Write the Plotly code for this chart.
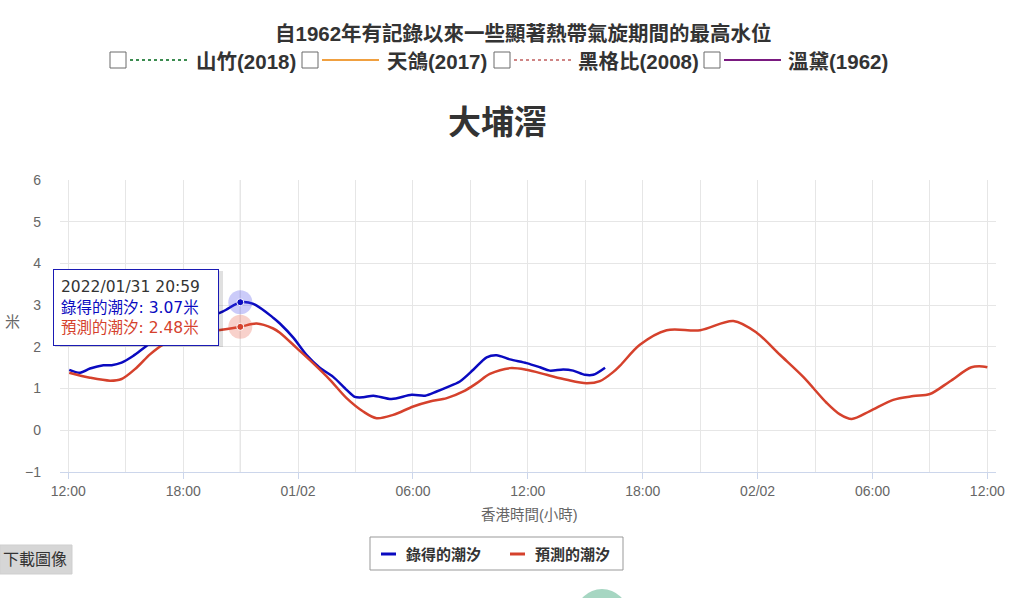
import plotly.graph_objects as go

# ---------------- data ----------------
obs_times = [
    "2022-01-31 12:03", "2022-01-31 12:37", "2022-01-31 13:08", "2022-01-31 13:50",
    "2022-01-31 14:16", "2022-01-31 14:47", "2022-01-31 15:23", "2022-01-31 16:05",
    "2022-01-31 17:00", "2022-01-31 18:00", "2022-01-31 19:00", "2022-01-31 20:05",
    "2022-01-31 20:59", "2022-01-31 21:40", "2022-01-31 22:42", "2022-01-31 23:03",
    "2022-01-31 23:45", "2022-02-01 00:27", "2022-02-01 01:08", "2022-02-01 01:50",
    "2022-02-01 02:32", "2022-02-01 02:58", "2022-02-01 03:24", "2022-02-01 03:56",
    "2022-02-01 04:53", "2022-02-01 05:56", "2022-02-01 06:38", "2022-02-01 07:14",
    "2022-02-01 07:46", "2022-02-01 08:27", "2022-02-01 09:09", "2022-02-01 09:51",
    "2022-02-01 10:22", "2022-02-01 11:04", "2022-02-01 11:56", "2022-02-01 12:38",
    "2022-02-01 13:09", "2022-02-01 13:51", "2022-02-01 14:22", "2022-02-01 14:59",
    "2022-02-01 15:25", "2022-02-01 16:02",
]
obs_values = [
    1.45, 1.38, 1.48, 1.56, 1.56, 1.62, 1.78, 2.02,
    2.30, 2.50, 2.66, 2.85, 3.07, 3.03, 2.70, 2.56,
    2.22, 1.80, 1.50, 1.28, 0.97, 0.80, 0.79, 0.83,
    0.75, 0.85, 0.83, 0.93, 1.03, 1.17, 1.45, 1.75,
    1.80, 1.70, 1.61, 1.51, 1.43, 1.46, 1.43, 1.33,
    1.33, 1.50,
]

pred_times = [
    "2022-01-31 12:03", "2022-01-31 13:08", "2022-01-31 14:11", "2022-01-31 14:47",
    "2022-01-31 15:34", "2022-01-31 16:16", "2022-01-31 16:58", "2022-01-31 17:45",
    "2022-01-31 18:40", "2022-01-31 20:01", "2022-01-31 20:59", "2022-01-31 21:50",
    "2022-01-31 22:42", "2022-01-31 23:03", "2022-01-31 23:56", "2022-02-01 00:47",
    "2022-02-01 01:40", "2022-02-01 02:32", "2022-02-01 03:24", "2022-02-01 04:06",
    "2022-02-01 04:58", "2022-02-01 06:01", "2022-02-01 06:53", "2022-02-01 07:46",
    "2022-02-01 08:38", "2022-02-01 09:20", "2022-02-01 10:01", "2022-02-01 11:04",
    "2022-02-01 11:56", "2022-02-01 12:59", "2022-02-01 14:02", "2022-02-01 15:04",
    "2022-02-01 15:46", "2022-02-01 16:28", "2022-02-01 16:49", "2022-02-01 17:51",
    "2022-02-01 19:15", "2022-02-01 21:00", "2022-02-01 22:44", "2022-02-01 23:57",
    "2022-02-02 01:10", "2022-02-02 02:23", "2022-02-02 03:36", "2022-02-02 04:18",
    "2022-02-02 04:55", "2022-02-02 05:52", "2022-02-02 07:05", "2022-02-02 08:08",
    "2022-02-02 09:00", "2022-02-02 10:02", "2022-02-02 11:10", "2022-02-02 11:45",
    "2022-02-02 12:00",
]
pred_values = [
    1.38, 1.26, 1.19, 1.23, 1.50, 1.82, 2.06, 2.22,
    2.33, 2.41, 2.48, 2.56, 2.44, 2.34, 1.97, 1.61,
    1.21, 0.77, 0.45, 0.29, 0.37, 0.57, 0.69, 0.77,
    0.93, 1.13, 1.35, 1.49, 1.45, 1.33, 1.21, 1.13,
    1.18, 1.40, 1.55, 2.05, 2.40, 2.40, 2.62, 2.34,
    1.81, 1.28, 0.66, 0.38, 0.27, 0.46, 0.73, 0.82,
    0.87, 1.17, 1.51, 1.53, 1.51,
]

hover_time = "2022-01-31 20:59"
hover_label = "2022/01/31 20:59"
hover_observed = 3.07
hover_predicted = 2.48

series_names = ["錄得的潮汐", "預測的潮汐"]
history_names = ["山竹(2018)", "天鴿(2017)", "黑格比(2008)", "溫黛(1962)"]

x_tickvals = [
    "2022-01-31 12:00", "2022-01-31 18:00", "2022-02-01 00:00", "2022-02-01 06:00",
    "2022-02-01 12:00", "2022-02-01 18:00", "2022-02-02 00:00", "2022-02-02 06:00",
    "2022-02-02 12:00",
]
x_ticktext = ["12:00", "18:00", "01/02", "06:00", "12:00", "18:00", "02/02", "06:00", "12:00"]
y_tickvals = [-1, 0, 1, 2, 3, 4, 5, 6]

# ---------------- styling ----------------
BLUE = "#0a0ac0"
RED = "#d5412c"
GRID = "#e6e6e6"
CJK = "Liberation Sans, Noto Sans CJK TC, sans-serif"
TIPFONT = "DejaVu Sans, Noto Sans CJK TC, sans-serif"

W, H = 1024, 598
PL, PR, PT, PB = 60, 996, 180, 472


def px(x):
    return (x - PL) / (PR - PL)


def py(y):
    return (PB - y) / (PB - PT)


fig = go.Figure()

fig.add_trace(go.Scatter(
    x=obs_times, y=obs_values, mode="lines", name=series_names[0],
    line=dict(color=BLUE, width=2.5, shape="spline", smoothing=0.8),
    showlegend=False, hoverinfo="skip",
))
fig.add_trace(go.Scatter(
    x=pred_times, y=pred_values, mode="lines", name=series_names[1],
    line=dict(color=RED, width=2.5, shape="spline", smoothing=0.9),
    showlegend=False, hoverinfo="skip",
))

# hover halos + points
for val, col, halo in [(hover_observed, BLUE, "rgba(70,70,235,0.28)"),
                       (hover_predicted, RED, "rgba(230,90,70,0.28)")]:
    fig.add_trace(go.Scatter(
        x=[hover_time], y=[val], mode="markers",
        marker=dict(size=24, color=halo, line=dict(width=0)),
        showlegend=False, hoverinfo="skip",
    ))
    fig.add_trace(go.Scatter(
        x=[hover_time], y=[val], mode="markers",
        marker=dict(size=7, color=col, line=dict(width=1, color="white")),
        showlegend=False, hoverinfo="skip",
    ))

shapes = []
annotations = []

# crosshair
shapes.append(dict(type="line", xref="x", yref="paper", x0=hover_time, x1=hover_time,
                   y0=0, y1=1, line=dict(color="#c4c4c4", width=1), layer="below"))

# ---- top title & history toggles ----
annotations.append(dict(
    text="<b>自1962年有記錄以來一些顯著熱帶氣旋期間的最高水位</b>",
    xref="paper", yref="paper", x=px(523), y=py(33), xanchor="center", yanchor="middle",
    showarrow=False, font=dict(family=CJK, size=20.5, color="#333333")))

hist_styles = [
    dict(color="#3c8c50", dash="dot"),
    dict(color="#f0a040", dash="solid"),
    dict(color="#cf8585", dash="dot"),
    dict(color="#7a1a80", dash="solid"),
]
box_x = [110, 302, 494, 704]
text_x = [194, 385, 576, 786]
for bx, tx, st, nm in zip(box_x, text_x, hist_styles, history_names):
    shapes.append(dict(type="rect", xref="paper", yref="paper",
                       x0=px(bx), x1=px(bx + 16), y0=py(68), y1=py(52),
                       line=dict(color="#6a6a6a", width=1), fillcolor="white", layer="above"))
    shapes.append(dict(type="line", xref="paper", yref="paper",
                       x0=px(bx + 20), x1=px(bx + 77), y0=py(60), y1=py(60),
                       line=dict(color=st["color"], width=2, dash=st["dash"]), layer="above"))
    annotations.append(dict(
        text=f"<b>{nm}</b>", xref="paper", yref="paper", x=px(tx), y=py(61),
        xanchor="left", yanchor="middle", showarrow=False,
        font=dict(family=CJK, size=20.5, color="#333333")))

# chart title
annotations.append(dict(
    text="<b>大埔滘</b>", xref="paper", yref="paper", x=px(497), y=py(122),
    xanchor="center", yanchor="middle", showarrow=False,
    font=dict(family=CJK, size=33, color="#333333")))

# axis titles
annotations.append(dict(
    text="米", xref="paper", yref="paper", x=px(12), y=py(321),
    xanchor="center", yanchor="middle", showarrow=False,
    font=dict(family=CJK, size=15, color="#666666")))
annotations.append(dict(
    text="香港時間(小時)", xref="paper", yref="paper", x=px(529), y=py(515),
    xanchor="center", yanchor="middle", showarrow=False,
    font=dict(family=CJK, size=14.5, color="#666666")))

# tooltip
shapes.append(dict(type="rect", xref="paper", yref="paper",
                   x0=px(55), x1=px(223), y0=py(347), y1=py(271),
                   line=dict(width=0), fillcolor="rgba(0,0,0,0.12)", layer="above"))
tip_text = (f"<span style='color:#333333'>{hover_label}</span><br>"
            f"<span style='color:{BLUE}'>{series_names[0]}: {hover_observed:.2f}米</span><br>"
            f"<span style='color:{RED}'>{series_names[1]}: {hover_predicted:.2f}米</span>")
annotations.append(dict(
    text=tip_text, xref="paper", yref="paper", x=px(53), y=py(269),
    xanchor="left", yanchor="top", showarrow=False, align="left",
    width=150, height=61, borderpad=7, bgcolor="white",
    bordercolor="#1a1ab4", borderwidth=1,
    font=dict(family=TIPFONT, size=15.5, color="#333333")))

# bottom legend
shapes.append(dict(type="rect", xref="paper", yref="paper",
                   x0=px(370), x1=px(623), y0=py(570), y1=py(537),
                   line=dict(color="#999999", width=1), fillcolor="white", layer="above"))
for lx, tx, col, nm in [(381, 404, BLUE, series_names[0]), (510, 533, RED, series_names[1])]:
    shapes.append(dict(type="line", xref="paper", yref="paper",
                       x0=px(lx), x1=px(lx + 15), y0=py(554), y1=py(554),
                       line=dict(color=col, width=3), layer="above"))
    annotations.append(dict(
        text=f"<b>{nm}</b>", xref="paper", yref="paper", x=px(tx), y=py(554),
        xanchor="left", yanchor="middle", showarrow=False,
        font=dict(family=CJK, size=15, color="#333333")))

# download button
shapes.append(dict(type="rect", xref="paper", yref="paper",
                   x0=px(0), x1=px(72), y0=py(574), y1=py(545),
                   line=dict(color="#cfcfcf", width=1), fillcolor="#d6d6d6", layer="above"))
annotations.append(dict(
    text="下載圖像", xref="paper", yref="paper", x=px(35), y=py(559),
    xanchor="center", yanchor="middle", showarrow=False,
    font=dict(family=CJK, size=16, color="#333333")))

# decorative green blob at bottom
shapes.append(dict(type="circle", xref="paper", yref="paper",
                   x0=px(576), x1=px(628), y0=py(640), y1=py(589),
                   line=dict(width=0), fillcolor="#a6d6c2", layer="above"))

fig.update_layout(
    width=W, height=H,
    margin=dict(l=PL, r=W - PR, t=PT, b=H - PB),
    paper_bgcolor="white", plot_bgcolor="white",
    showlegend=False,
    shapes=shapes, annotations=annotations,
    xaxis=dict(
        type="date",
        range=["2022-01-31 11:34", "2022-02-02 12:27"],
        tickvals=x_tickvals, ticktext=x_ticktext,
        tickfont=dict(family="Liberation Sans, sans-serif", size=14, color="#666666"),
        showgrid=True, gridcolor=GRID, gridwidth=1,
        minor=dict(dtick=3 * 3600 * 1000, tick0="2022-01-31 12:00",
                   showgrid=True, gridcolor=GRID, gridwidth=1),
        showline=True, linecolor="#ccd6eb", linewidth=1,
        ticks="outside", ticklen=6, tickcolor="#ccd6eb",
        zeroline=False, fixedrange=True,
    ),
    yaxis=dict(
        range=[-1, 6], tickvals=y_tickvals,
        tickfont=dict(family="Liberation Sans, sans-serif", size=14, color="#666666"),
        showgrid=True, gridcolor=GRID, gridwidth=1,
        zeroline=False, showline=False, ticks="",
        ticklabelstandoff=18, fixedrange=True,
    ),
)

fig.write_html(
    "out.html",
    config={"displayModeBar": False},
    post_script="document.body.style.margin='0';document.body.style.overflow='hidden';",
)
